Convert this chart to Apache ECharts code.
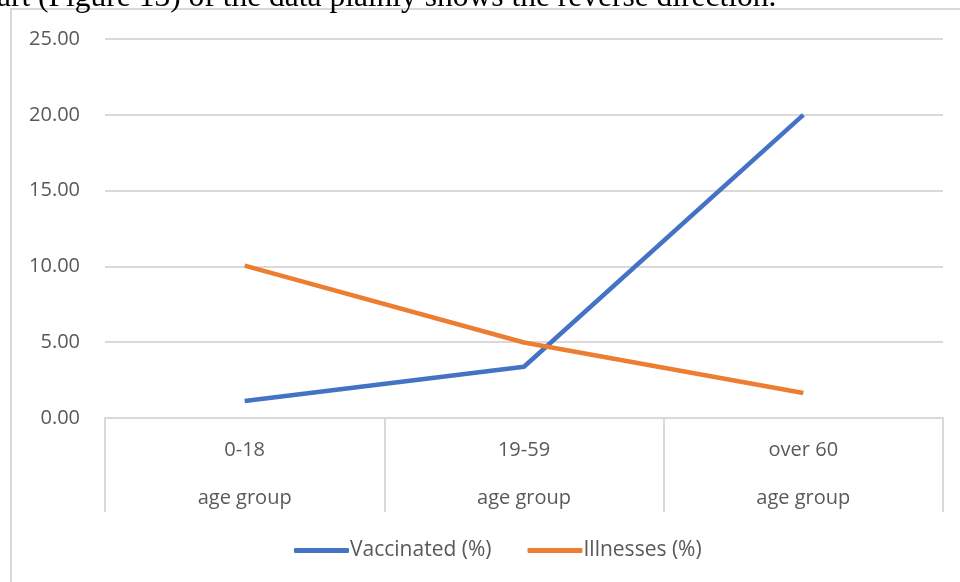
<!DOCTYPE html>
<html><head><meta charset="utf-8">
<script src="https://cdn.jsdelivr.net/npm/echarts@6/dist/echarts.min.js"></script>
<style>html,body{margin:0;padding:0;background:#fff}#c{width:960px;height:582px}</style>
</head><body><div id="c"></div>
<script>
var categories = ['0-18', '19-59', 'over 60'];
var groupLabel = 'age group';
var vaccinated = [1.12, 3.38, 20.0];
var illnesses = [10.05, 4.98, 1.65];
var seriesNames = ['Vaccinated (%)', 'Illnesses (%)'];
var captionText = 'art (Figure 13) of the data plainly shows the reverse direction.';

var chart = echarts.init(document.getElementById('c'));
var font = '"Open Sans", "Liberation Sans", sans-serif';
chart.setOption({
  animation: false,
  backgroundColor: '#fff',
  graphic: [
    { type: 'rect', shape: { x: 11, y: 9, width: 960, height: 600 }, style: { fill: 'none', stroke: '#d9d9d9', lineWidth: 2 }, silent: true },
    { type: 'text', left: -3, top: -18, style: { text: captionText, font: '31.5px "Liberation Serif", serif', fill: '#000' } }
  ],
  grid: { left: 105, right: 17, top: 39, bottom: 164 },
  legend: {
    bottom: 16, left: 289, icon: 'roundRect', itemWidth: 55, itemHeight: 5, itemGap: 36,
    textStyle: { fontFamily: font, fontSize: 21, color: '#595959', padding: [0,0,0,-4] },
    data: seriesNames
  },
  xAxis: {
    type: 'category', data: categories, boundaryGap: true,
    axisLine: { lineStyle: { color: '#d9d9d9', width: 2 } },
    axisTick: { show: true, length: 94, lineStyle: { color: '#d9d9d9', width: 2 } },
    axisLabel: {
      margin: 20, fontFamily: font, fontSize: 20, color: '#595959', lineHeight: 24,
      formatter: function (v) { return v + '\n\n' + groupLabel; }
    }
  },
  yAxis: {
    type: 'value', min: 0, max: 25, interval: 5,
    axisLine: { show: false }, axisTick: { show: false },
    splitLine: { lineStyle: { color: '#d9d9d9', width: 2 } },
    axisLabel: { margin: 25, fontFamily: font, fontSize: 20, color: '#595959', formatter: function (v) { return v.toFixed(2); } }
  },
  series: [
    { name: seriesNames[0], type: 'line', data: vaccinated, symbol: 'none', lineStyle: { color: '#4472c4', width: 4.5 }, itemStyle: { color: '#4472c4' } },
    { name: seriesNames[1], type: 'line', data: illnesses, symbol: 'none', lineStyle: { color: '#ed7d31', width: 4.5 }, itemStyle: { color: '#ed7d31' } }
  ]
});
</script></body></html>
